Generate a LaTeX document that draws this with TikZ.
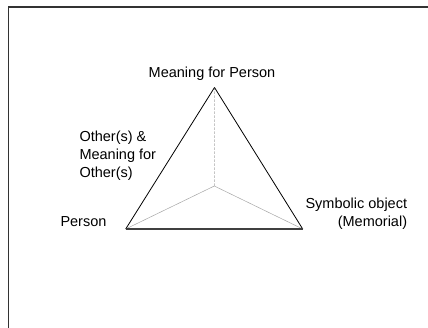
\documentclass[tikz,border=0pt]{standalone}
\usepackage{fontspec}
\setmainfont{Liberation Sans}
\usetikzlibrary{positioning}

\begin{document}
\begin{tikzpicture}[x=1pt,y=-1pt,
  lbl/.style = {font=\fontsize{14.5}{18}\selectfont, inner sep=0pt},
  edge/.style = {draw, line width=0.8pt},
  base/.style = {draw, line width=1.3pt, black!75},
  inner/.style = {draw, line width=0.5pt, black!35},
  hidden/.style = {inner, dash pattern=on 2.5pt off 1.5pt}]

\useasboundingbox (0,0) rectangle (428,328);
\clip (0,0) rectangle (428,328);
\draw[line width=1.3pt, black!80] (8.5,340) -- (8.5,7) -- (440,7);

\coordinate (t) at (214.5,87.5);
\coordinate (l) at (125.7,229);
\coordinate (r) at (302.7,229);
\coordinate (c) at (214.3,186);

\node[lbl, anchor=base] (tl) at (212,78) {Meaning for Person};
\node[lbl, anchor=base west, align=left] (ol) at (79.3,177.5)
  {Other(s) \&\\Meaning for\\Other(s)};
\node[lbl, anchor=base west] (pl) at (60.3,227) {Person};
\node[lbl, anchor=base east, align=right] (sl) at (407.3,227)
  {Symbolic object\\(Memorial)};

\path[hidden] (t) -- (c);
\path[inner] (c) -- (l);
\path[inner] (c) -- (r);

\path[edge] (l) -- (t);
\path[edge] (t) -- (r);
\path[base] (l) -- (r);

\end{tikzpicture}
\end{document}
